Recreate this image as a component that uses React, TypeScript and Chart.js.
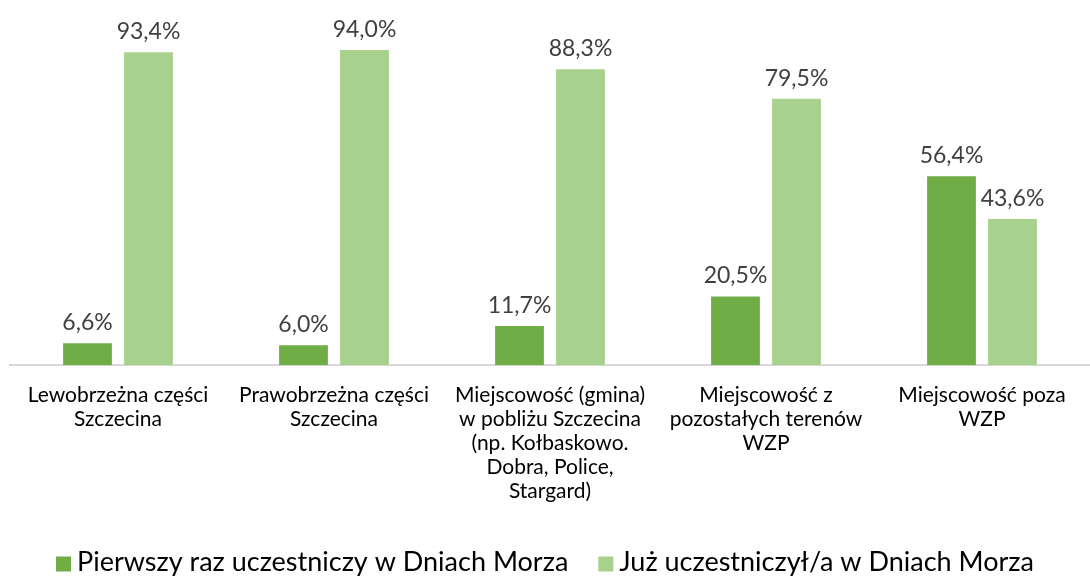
import React, { useEffect, useRef } from "react";
import { Chart, registerables } from "chart.js";

Chart.register(...registerables);

const categories: string[][] = [
  ["Lewobrzeżna części", "Szczecina"],
  ["Prawobrzeżna części", "Szczecina"],
  ["Miejscowość (gmina)", "w pobliżu Szczecina", "(np. Kołbaskowo.", "Dobra, Police,", "Stargard)"],
  ["Miejscowość z", "pozostałych terenów", "WZP"],
  ["Miejscowość poza", "WZP"],
];
const seriesNames = ["Pierwszy raz uczestniczy w Dniach Morza", "Już uczestniczył/a w Dniach Morza"];
const firstTime = [6.6, 6.0, 11.7, 20.5, 56.4];
const already = [93.4, 94.0, 88.3, 79.5, 43.6];
const colors = ["#70AD47", "#A9D18E"];

const FONT = "Lato, 'Open Sans', sans-serif";

const labelPlugin = {
  id: "valueLabels",
  afterDatasetsDraw(chart: any) {
    const ctx = chart.ctx;
    ctx.save();
    ctx.font = `23px ${FONT}`;
    ctx.fillStyle = "#404040";
    ctx.textAlign = "center";
    ctx.textBaseline = "bottom";
    chart.data.datasets.forEach((ds: any, i: number) => {
      const meta = chart.getDatasetMeta(i);
      meta.data.forEach((bar: any, j: number) => {
        const v = ds.data[j] as number;
        ctx.fillText(v.toFixed(1).replace(".", ",") + "%", bar.x, bar.y - 9);
      });
    });
    ctx.restore();
  },
};

const legendPlugin = {
  id: "customLegend",
  afterDraw(chart: any) {
    const ctx = chart.ctx;
    ctx.save();
    ctx.font = `27px ${FONT}`;
    ctx.textBaseline = "middle";
    ctx.textAlign = "left";
    const box = 15;
    const gap = 6;
    const itemGap = 30;
    const names = chart.data.datasets.map((d: any) => d.label as string);
    const widths = names.map((n: string) => ctx.measureText(n).width);
    const total = widths.reduce((a: number, w: number) => a + box + gap + w, 0) + itemGap * (names.length - 1);
    let x = (chart.width - total) / 2;
    const cy = 562;
    names.forEach((n: string, i: number) => {
      ctx.fillStyle = chart.data.datasets[i].backgroundColor;
      ctx.fillRect(x, cy - box / 2 + 2, box, box);
      x += box + gap;
      ctx.fillStyle = "#000000";
      ctx.fillText(n, x, cy);
      x += widths[i] + itemGap;
    });
    ctx.restore();
  },
};

export default function App() {
  const ref = useRef<HTMLCanvasElement | null>(null);
  useEffect(() => {
    document.body.style.margin = "0";
    const chart = new Chart(ref.current!, {
      type: "bar",
      data: {
        labels: categories,
        datasets: [
          { label: seriesNames[0], data: firstTime, backgroundColor: colors[0] },
          { label: seriesNames[1], data: already, backgroundColor: colors[1] },
        ],
      },
      options: {
        animation: false,
        responsive: false,
        maintainAspectRatio: false,
        layout: { padding: { left: 10, right: 0, top: 30, bottom: 55 } },
        datasets: { bar: { categoryPercentage: 0.565, barPercentage: 0.8 } },
        scales: {
          x: {
            grid: { display: false, drawTicks: false },
            border: { display: true, color: "#D9D9D9", width: 2 },
            ticks: { color: "#000000", font: { size: 21, family: FONT, lineHeight: 1.14 }, padding: 18, maxRotation: 0, autoSkip: false },
          },
          y: { display: false, min: 0, max: 100 },
        },
        plugins: {
          legend: { display: false },
          tooltip: { enabled: false },
        },
      },
      plugins: [labelPlugin, legendPlugin],
    });
    return () => chart.destroy();
  }, []);
  return (
    <div style={{ width: 1090, height: 576 }}>
      <canvas ref={ref} width={1090} height={576} style={{ display: "block" }} />
    </div>
  );
}
